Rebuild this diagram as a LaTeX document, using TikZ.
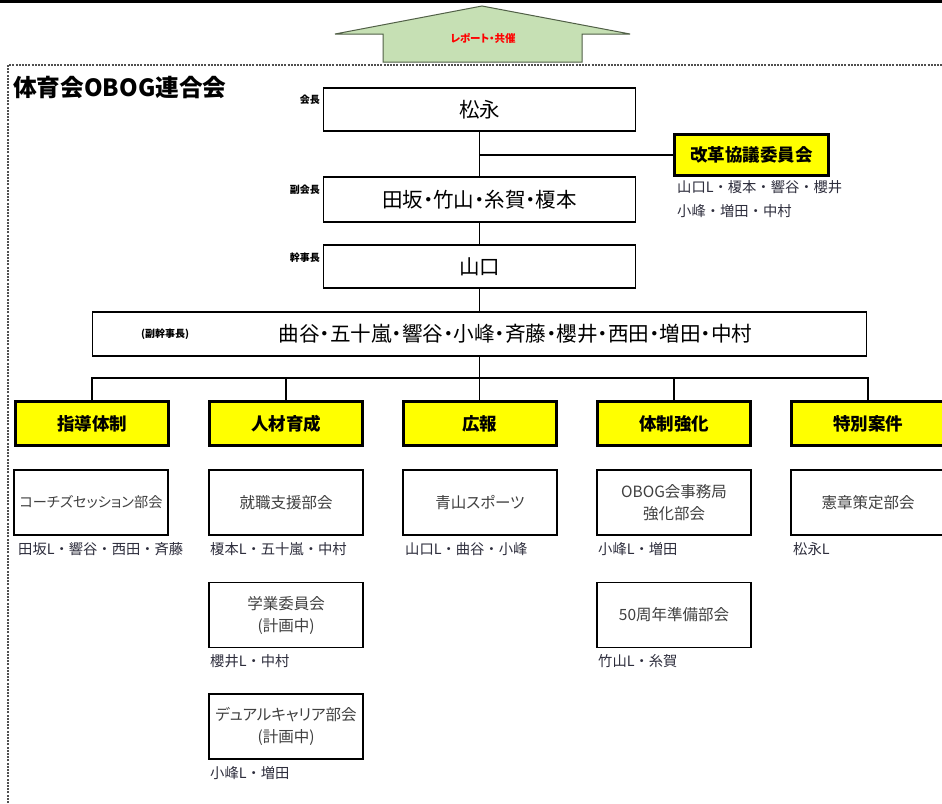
\documentclass[tikz,border=0pt]{standalone}
\usepackage{fontspec}
\setmainfont{Noto Sans CJK JP}[RawFeature=+palt]
\newfontfamily\fixedcjk{Noto Sans CJK JP}
\definecolor{yellowc}{RGB}{255,255,0}
\definecolor{arrowfill}{RGB}{198,224,180}
\definecolor{arrowdraw}{RGB}{80,95,70}
\definecolor{subtext}{RGB}{64,64,64}
\definecolor{memtext}{RGB}{45,45,60}
\definecolor{framec}{RGB}{80,80,80}
\begin{document}
\begin{tikzpicture}[x=1pt,y=-1pt,
  box/.style={draw=black, line width=1.3pt, fill=white, inner sep=0pt, minimum width=312pt, minimum height=43pt, font=\fontsize{20.5}{24}\selectfont},
  cat/.style={draw=black, line width=3pt, fill=yellowc, minimum width=153pt, minimum height=44pt, inner sep=0pt, font=\bfseries\fontsize{17.5}{20}\selectfont},
  sub/.style={draw=black, line width=1.9pt, fill=white, minimum width=154pt, minimum height=65pt, inner sep=0pt, align=center, text=subtext, font=\fontsize{15.5}{22}\selectfont},
  mem/.style={anchor=west, inner sep=0pt, text=memtext, font=\fixedcjk\fontsize{14.3}{18}\selectfont},
  role/.style={anchor=east, inner sep=0pt, font=\bfseries\fontsize{10}{12}\selectfont},
  conn/.style={line width=1.2pt}]
\useasboundingbox (0,0) rectangle (942,803);
\fill[white] (0,0) rectangle (942,803);
% top rule
\draw[line width=3pt, black] (0,1.5) -- (942,1.5);
% dotted frame
\draw[framec, line width=2.2pt, dash pattern=on 2pt off 1.2pt] (8,803) -- (8,65) -- (942,65);
% arrow
\draw[fill=arrowfill, draw=arrowdraw, line width=1pt] (482,6) -- (630,34) -- (582,34) -- (582,62) -- (383,62) -- (383,34) -- (335,34) -- cycle;
\node[text=red, font=\bfseries\fontsize{10.5}{12}\selectfont, inner sep=0pt] (rep) at (483,38) {レポート・共催};
% title
\node[anchor=west, inner sep=0pt, font=\bfseries\fontsize{23.7}{27}\selectfont] (title) at (13,88) {体育会OBOG連合会};
% top chain
\node[box] (pres) at (479.5,109.5) {松永};
\node[box, minimum height=45pt] (vp) at (479.5,199.5) {田坂・竹山・糸賀・榎本};
\node[box] (sec) at (479.5,266.5) {山口};
\node[box, minimum width=774pt, minimum height=44pt, font=\fontsize{20.6}{24}\selectfont] (dep) at (479.5,334) {\hspace*{72pt}曲谷・五十嵐・響谷・小峰・斉藤・櫻井・西田・増田・中村};
\node[role] (r1) at (320,100) {会長};
\node[role] (r2) at (320,190) {副会長};
\node[role] (r3) at (320,258) {幹事長};
\node[inner sep=0pt, font=\bfseries\fontsize{10}{12}\selectfont] (r4) at (165,334) {(副幹事長)};
% reform committee
\node[cat, minimum width=154pt, minimum height=41pt, font=\bfseries\fontsize{17.5}{20}\selectfont] (reform) at (751.5,155) {改革協議委員会};
\node[mem] (m0a) at (677,187) {山口L・榎本・響谷・櫻井};
\node[mem] (m0b) at (677,211) {小峰・増田・中村};
\coordinate (br) at (479.5,155);
\draw[conn] (pres.south) -- (vp.north);
\draw[conn] (br) -- (reform.west);
\draw[conn] (vp.south) -- (sec.north);
\draw[conn] (sec.south) -- (dep.north);
% categories
\node[cat] (c1) at (92,423.5) {指導体制};
\node[cat] (c2) at (286,423.5) {人材育成};
\node[cat] (c3) at (479.5,423.5) {広報};
\node[cat] (c4) at (674,423.5) {体制強化};
\node[cat] (c5) at (868,423.5) {特別案件};
\coordinate (bus) at (479.5,378);
\draw[conn] (dep.south) -- (bus);
\draw[conn] (c1.north) -- (c1.north |- bus) -- (c5.north |- bus) -- (c5.north);
\draw[conn] (c2.north) -- (c2.north |- bus);
\draw[conn] (c3.north) -- (c3.north |- bus);
\draw[conn] (c4.north) -- (c4.north |- bus);
% sub boxes
\node[sub, font=\fontsize{14.2}{20}\selectfont] (s1) at (91,502.5) {コーチズセッション部会};
\node[sub] (s2) at (286,502.5) {就職支援部会};
\node[sub] (s3) at (480,502.5) {青山スポーツ};
\node[sub] (s4) at (674,502.5) {OBOG会事務局\\強化部会};
\node[sub] (s5) at (868,502.5) {憲章策定部会};
\node[mem] (m1) at (18,549) {田坂L・響谷・西田・斉藤};
\node[mem] (m2) at (210,549) {榎本L・五十嵐・中村};
\node[mem] (m3) at (405,549) {山口L・曲谷・小峰};
\node[mem] (m4) at (598,549) {小峰L・増田};
\node[mem] (m5) at (793,549) {松永L};
\node[sub] (s6) at (286,615) {学業委員会\\(計画中)};
\node[mem] (m6) at (210,661) {櫻井L・中村};
\node[sub] (s7) at (286,726.5) {デュアルキャリア部会\\(計画中)};
\node[mem] (m7) at (210,773) {小峰L・増田};
\node[sub] (s8) at (674,615) {50周年準備部会};
\node[mem] (m8) at (598,661) {竹山L・糸賀};
\end{tikzpicture}
\end{document}
